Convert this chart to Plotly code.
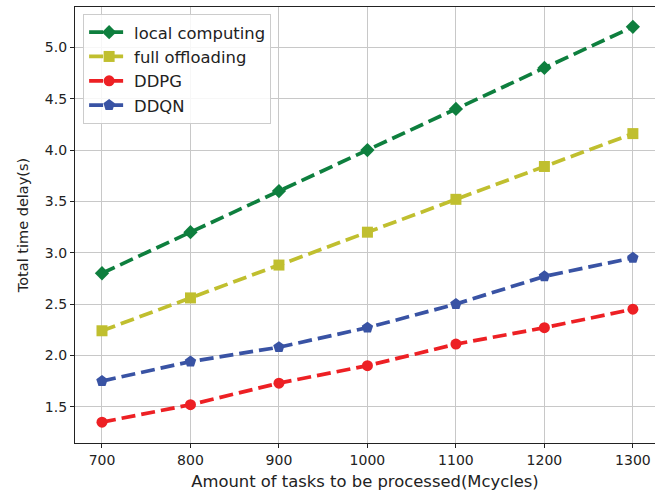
import plotly.graph_objects as go

# Task amount (Mcycles) on the x axis
task_amounts = [700, 800, 900, 1000, 1100, 1200, 1300]

# Total time delay (s) for each scheme
local_computing = [2.80, 3.20, 3.60, 4.00, 4.40, 4.80, 5.20]
full_offloading = [2.24, 2.56, 2.88, 3.20, 3.52, 3.84, 4.16]
ddpg = [1.35, 1.52, 1.73, 1.90, 2.11, 2.27, 2.45]
ddqn = [1.75, 1.94, 2.08, 2.27, 2.50, 2.77, 2.95]

x_ticks = [700, 800, 900, 1000, 1100, 1200, 1300]
y_ticks = [1.5, 2.0, 2.5, 3.0, 3.5, 4.0, 4.5, 5.0]

series = [
    ("local computing", local_computing, "#0e7f3e", "diamond", 11),
    ("full offloading", full_offloading, "#c0bf2f", "square", 11),
    ("DDPG", ddpg, "#ed2024", "circle", 11),
    ("DDQN", ddqn, "#3953a4", "pentagon", 12),
]

FONT = "DejaVu Sans"
fig = go.Figure()
for name, vals, color, symbol, size in series:
    fig.add_trace(go.Scatter(
        x=task_amounts, y=vals, name=name, mode="lines+markers",
        line=dict(color=color, width=3.7, dash="14px,6px"),
        marker=dict(symbol=symbol, size=size, color=color, line=dict(width=0)),
    ))

fig.update_layout(
    width=655, height=495,
    margin=dict(l=75, r=0, t=7, b=52),
    plot_bgcolor="white", paper_bgcolor="white",
    font=dict(family=FONT, size=14, color="#222222"),
    showlegend=True,
    legend=dict(
        x=0.014, y=0.984, xanchor="left", yanchor="top",
        bgcolor="rgba(255,255,255,0.85)", bordercolor="#cccccc", borderwidth=1,
        font=dict(family=FONT, size=16.4, color="#222222"),
        itemwidth=40,
    ),
    xaxis=dict(
        range=[669.5, 1325], tickvals=x_ticks,
        showgrid=True, gridcolor="#c8c8c8", gridwidth=1.3,
        showline=True, linecolor="#222222", linewidth=1.3, mirror=True,
        ticks="outside", ticklen=4, tickcolor="#222222",
        zeroline=False,
        title=dict(text="Amount of tasks to be processed(Mcycles)", standoff=8,
                   font=dict(family=FONT, size=16.4)),
    ),
    yaxis=dict(
        range=[1.147, 5.393], tickvals=y_ticks, tickformat=".1f",
        showgrid=True, gridcolor="#c8c8c8", gridwidth=1.3,
        showline=True, linecolor="#222222", linewidth=1.3,
        ticks="outside", ticklen=4, tickcolor="#222222",
        zeroline=False,
        title=dict(text="Total time delay(s)", standoff=12,
                   font=dict(family=FONT, size=14.5)),
    ),
)

fig.write_html("out.html")
